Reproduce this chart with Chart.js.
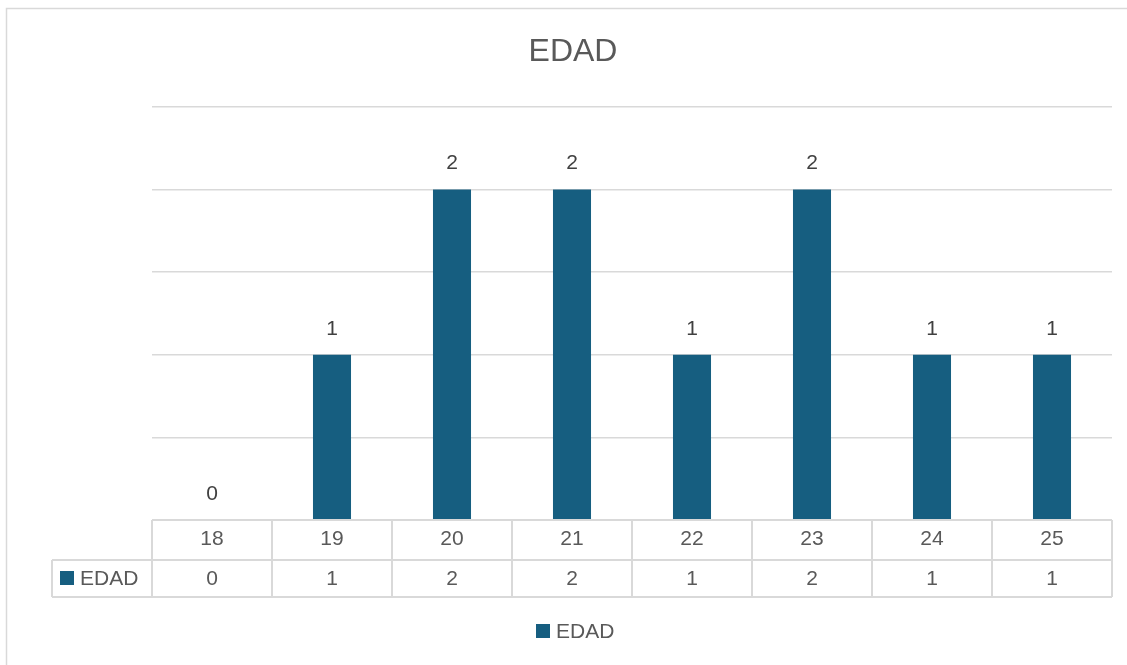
<!DOCTYPE html>
<html>
<head>
<meta charset="utf-8">
<script src="https://cdn.jsdelivr.net/npm/chart.js@4.4.0/dist/chart.umd.min.js"></script>
<style>
  html, body { margin: 0; padding: 0; background: #fff; }
  #wrap { width: 1127px; height: 665px; }
</style>
</head>
<body>
<div id="wrap"><canvas id="edadChart"></canvas></div>
<script>
const categories = ['18', '19', '20', '21', '22', '23', '24', '25'];
const edadValues = [0, 1, 2, 2, 1, 2, 1, 1];
const seriesName = 'EDAD';
const barColor = '#165e80';
const FONT = '"Liberation Sans", Arial, sans-serif';

// bar labels, data table, legend and frame drawn on top of the chart
const extras = {
  id: 'extras',
  beforeDraw(chart) {
    const ctx = chart.ctx;
    ctx.save();
    ctx.strokeStyle = '#d9d9d9';
    ctx.lineWidth = 1.5;
    ctx.strokeRect(6.5, 8.5, 1140, 700);
    ctx.restore();
  },
  afterDraw(chart) {
    const ctx = chart.ctx;
    const x = chart.scales.x;
    const area = chart.chartArea;
    const meta = chart.getDatasetMeta(0);
    ctx.save();

    // title
    ctx.fillStyle = '#595959';
    ctx.font = '32px ' + FONT;
    ctx.textAlign = 'center';
    ctx.textBaseline = 'middle';
    ctx.fillText(seriesName, 573, 52);

    // value labels over bars
    ctx.fillStyle = '#404040';
    ctx.font = '21px ' + FONT;
    meta.data.forEach((bar, i) => {
      ctx.fillText(String(edadValues[i]), bar.x, bar.y - 26);
    });

    // data table
    const colW = (area.right - area.left) / categories.length;
    const row1 = area.bottom, row2 = area.bottom + 40, row3 = area.bottom + 77;
    const leftCol = area.left - 100;
    ctx.strokeStyle = '#d9d9d9';
    ctx.lineWidth = 2;
    ctx.beginPath();
    ctx.moveTo(area.left, row1); ctx.lineTo(area.right, row1);
    ctx.moveTo(leftCol, row2); ctx.lineTo(area.right, row2);
    ctx.moveTo(leftCol, row3); ctx.lineTo(area.right, row3);
    ctx.moveTo(leftCol, row2); ctx.lineTo(leftCol, row3);
    for (let k = 0; k <= categories.length; k++) {
      const vx = area.left + k * colW;
      ctx.moveTo(vx, row1); ctx.lineTo(vx, row3);
    }
    ctx.stroke();

    ctx.fillStyle = '#595959';
    ctx.font = '21px ' + FONT;
    ctx.textAlign = 'center';
    categories.forEach((c, i) => {
      const cx = x.getPixelForValue(i);
      ctx.fillText(c, cx, row1 + 19);
      ctx.fillText(String(edadValues[i]), cx, row2 + 19);
    });
    ctx.fillStyle = barColor;
    ctx.fillRect(leftCol + 8, row2 + 11, 14, 14);
    ctx.fillStyle = '#595959';
    ctx.textAlign = 'left';
    ctx.fillText(seriesName, leftCol + 28, row2 + 19);

    // legend
    ctx.fillStyle = barColor;
    ctx.fillRect(536, 624, 14, 14);
    ctx.fillStyle = '#595959';
    ctx.fillText(seriesName, 556, 632);

    ctx.restore();
  }
};

new Chart(document.getElementById('edadChart'), {
  type: 'bar',
  data: {
    labels: categories,
    datasets: [{
      label: seriesName,
      data: edadValues,
      backgroundColor: barColor,
      barPercentage: 0.317,
      categoryPercentage: 1
    }]
  },
  options: {
    responsive: true,
    maintainAspectRatio: false,
    animation: false,
    layout: { padding: { left: 152, right: 15, top: 107, bottom: 145 } },
    plugins: {
      legend: { display: false },
      title: { display: false },
      tooltip: { enabled: false }
    },
    scales: {
      x: { display: false },
      y: {
        min: 0,
        max: 2.5,
        ticks: { display: false, stepSize: 0.5 },
        border: { display: false },
        grid: { color: '#d9d9d9', lineWidth: 1.5, drawTicks: false },
        afterFit(s) { s.width = 0; }
      }
    }
  },
  plugins: [extras]
});
</script>
</body>
</html>
